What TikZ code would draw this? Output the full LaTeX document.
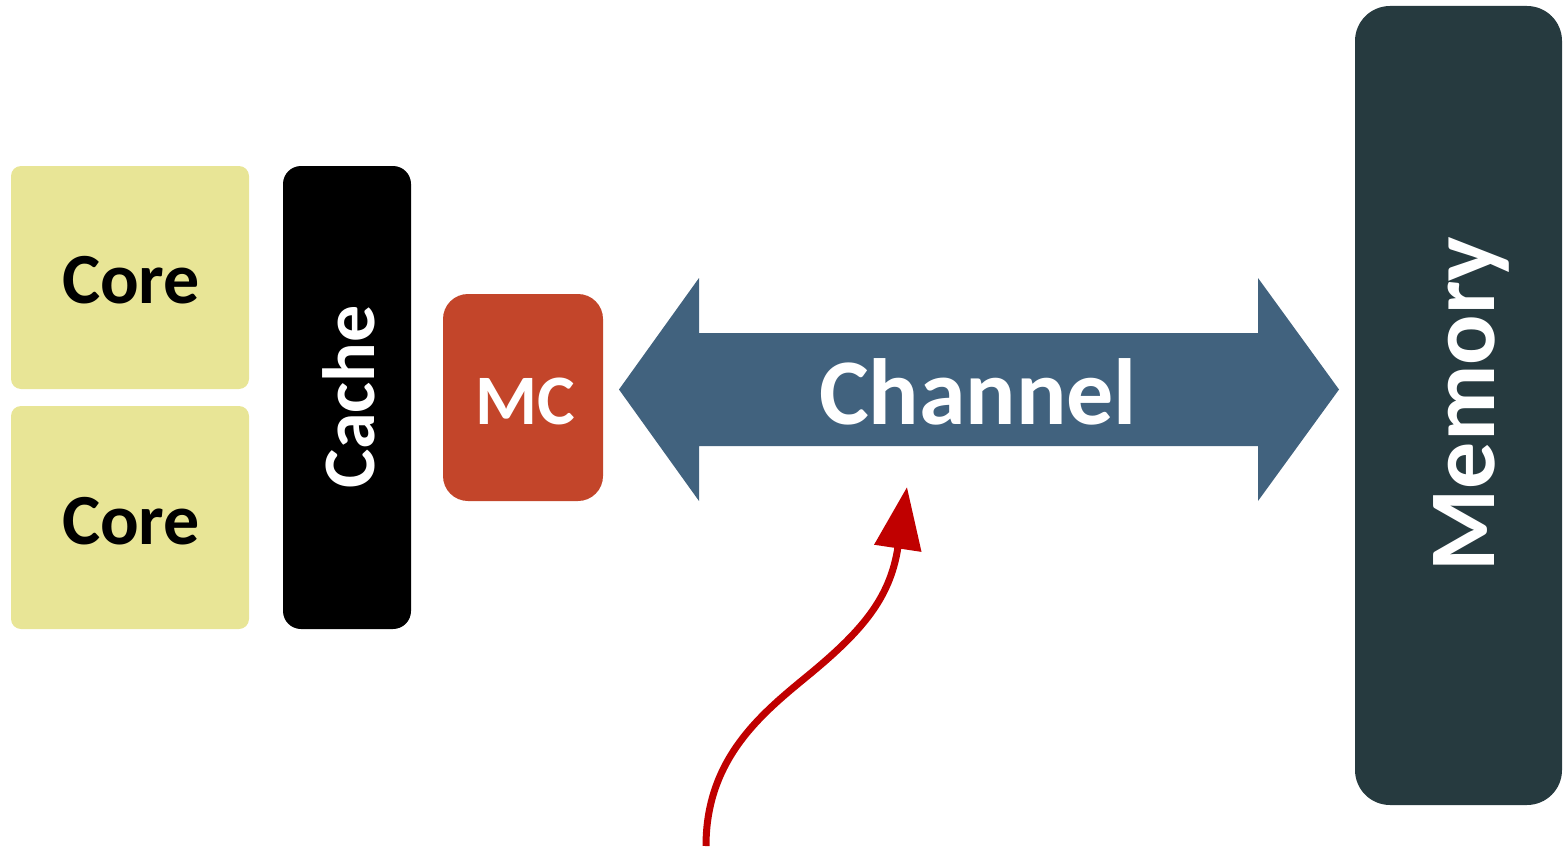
\documentclass[tikz,border=0pt]{standalone}
\usepackage{fontspec}
\setmainfont{Carlito}
\usetikzlibrary{arrows.meta}
\definecolor{corefill}{HTML}{E8E596}
\definecolor{mcfill}{HTML}{C3452A}
\definecolor{chanfill}{HTML}{41627E}
\definecolor{memfill}{HTML}{263A3F}
\definecolor{redline}{HTML}{C00000}
\tikzset{
  box/.style={inner sep=0pt, outer sep=0pt, draw=none, anchor=north west},
  corebox/.style={box, fill=corefill, rounded corners=10pt, minimum width=238pt, minimum height=223pt},
  lbl/.style={inner sep=0pt, outer sep=0pt, anchor=base, font=\bfseries},
}
\begin{document}
\begin{tikzpicture}[x=1pt,y=-1pt]
\useasboundingbox (0,0) rectangle (1563,848);
% cores
\node[corebox] (core1) at (11,166) {};
\node[corebox] (core2) at (11,406) {};
\node[lbl, font=\bfseries\fontsize{72}{80}\selectfont] (core1t) at (131,303) {Core};
\node[lbl, font=\bfseries\fontsize{72}{80}\selectfont] (core2t) at (131,544) {Core};
% cache
\node[box, fill=black, rounded corners=18pt, minimum width=128pt, minimum height=463pt] (cache) at (283,166) {};
\node[lbl, rotate=90, text=white, font=\bfseries\fontsize{74}{80}\selectfont] (cachet) at (374,397) {Cache};
% MC
\node[box, fill=mcfill, rounded corners=25pt, minimum width=160pt, minimum height=207pt] (mc) at (443,294) {};
\node[lbl, text=white, font=\bfseries\fontsize{71}{80}\selectfont] (mct) at (525,424) {MC};
% channel double arrow
\fill[chanfill] (619,389.5) -- (699,278) -- (699,333) -- (1258,333) -- (1258,278)
  -- (1339,389.5) -- (1258,501) -- (1258,446) -- (699,446) -- (699,501) -- cycle;
\node[lbl, text=white, font=\bfseries\fontsize{94}{100}\selectfont] (chant) at (978,424) {Channel};
% memory
\node[box, fill=memfill, rounded corners=35pt, minimum width=207pt, minimum height=799pt] (mem) at (1355,6) {};
\node[lbl, rotate=90, text=white, font=\bfseries\fontsize{94}{100}\selectfont] (memt) at (1494,404) {Memory};
% red arrow
\coordinate (rs) at (706,846);
\coordinate (rm) at (805,678);
\coordinate (re) at (907,487);
\draw[redline, line width=7pt, -{Triangle[length=62pt,width=46pt]}]
  (rs) .. controls (706,760) and (760,715) .. (rm)
       .. controls (860,633) and (890,600) .. (re);
\end{tikzpicture}
\end{document}
